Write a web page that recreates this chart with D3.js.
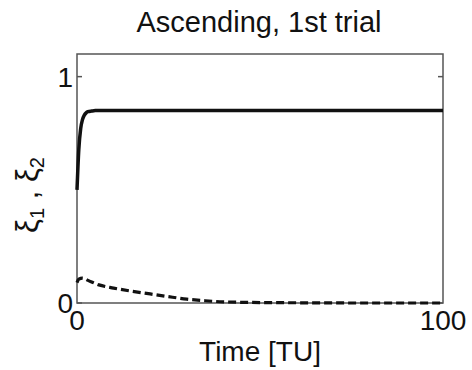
<!DOCTYPE html>
<html>
<head>
<meta charset="utf-8">
<script src="https://cdn.jsdelivr.net/npm/d3@7"></script>
<style>
  body { margin: 0; background: #fff; }
  text { font-family: "Liberation Sans", Arial, sans-serif; fill: #111; }
</style>
</head>
<body>
<svg class="chart"></svg>
<script>
// xi_1 (solid) and xi_2 (dashed) over time
var t1 = [0, 0.5, 1, 1.5, 2, 2.5, 3, 4, 5, 10, 20, 40, 60, 80, 100];
var xi1 = [0.5, 0.68, 0.77, 0.81, 0.83, 0.84, 0.845, 0.848, 0.85, 0.85, 0.85, 0.85, 0.85, 0.85, 0.85];
var t2 = [0, 0.5, 1.5, 3, 6, 10, 15, 20, 25, 30, 35, 40, 50, 60, 80, 100];
var xi2 = [0.09, 0.105, 0.11, 0.1, 0.08, 0.066, 0.052, 0.04, 0.028, 0.017, 0.01, 0.005, 0.002, 0.001, 0, 0];
var xTicks = [0, 100];
var yTicks = [0, 1];

var width = 472,
    height = 370;

var svg = d3.select(".chart").attr("width", width).attr("height", height),
    margin = {top: 54, right: 29, bottom: 67, left: 77},
    w = width - margin.left - margin.right,
    h = height - margin.top - margin.bottom,
    g = svg.append("g").attr("transform", "translate(" + margin.left + "," + margin.top + ")");

var x = d3.scaleLinear().domain([0, 100]).range([0, w]);
var y = d3.scaleLinear().domain([0, 1.1]).range([h, 0]);

var line = d3.line()
    .x(function(d) { return x(d[0]); })
    .y(function(d) { return y(d[1]); })
    .curve(d3.curveMonotoneX);

// box
g.append("rect")
    .attr("width", w).attr("height", h)
    .attr("fill", "none").attr("stroke", "#555").attr("stroke-width", 1.5);

// inward ticks on both sides
g.append("g").selectAll("line").data(yTicks).enter().append("line")
    .attr("x1", 0).attr("x2", 5)
    .attr("y1", y).attr("y2", y)
    .attr("stroke", "#555").attr("stroke-width", 1.5);
g.append("g").selectAll("line").data(yTicks).enter().append("line")
    .attr("x1", w - 5).attr("x2", w)
    .attr("y1", y).attr("y2", y)
    .attr("stroke", "#555").attr("stroke-width", 1.5);

g.append("path")
    .datum(t2.map(function(t, i) { return [t, xi2[i]]; }))
    .attr("d", line)
    .attr("fill", "none").attr("stroke", "#111")
    .attr("stroke-width", 3.2).attr("stroke-dasharray", "8,4");

g.append("path")
    .datum(t1.map(function(t, i) { return [t, xi1[i]]; }))
    .attr("d", line)
    .attr("fill", "none").attr("stroke", "#111")
    .attr("stroke-width", 3.5);

// tick labels
g.append("g").selectAll("text").data(yTicks).enter().append("text")
    .attr("x", -4).attr("y", y).attr("dy", "0.36em")
    .attr("text-anchor", "end").attr("font-size", 28)
    .text(function(d) { return d; });
g.append("g").selectAll("text").data(xTicks).enter().append("text")
    .attr("x", x).attr("y", h + 27)
    .attr("text-anchor", "middle").attr("font-size", 28)
    .text(function(d) { return d; });

// title and axis labels
svg.append("text")
    .attr("x", 259).attr("y", 32)
    .attr("text-anchor", "middle").attr("font-size", 29)
    .text("Ascending, 1st trial");

svg.append("text")
    .attr("x", 260).attr("y", 361)
    .attr("text-anchor", "middle").attr("font-size", 28)
    .text("Time [TU]");

var yl = svg.append("text")
    .attr("transform", "translate(38," + 195 + ") rotate(-90)")
    .attr("text-anchor", "middle").attr("font-size", 31);
yl.append("tspan").text("ξ");
yl.append("tspan").attr("font-size", 20).attr("dy", 6).text("1");
yl.append("tspan").attr("dy", -6).text(" , ξ");
yl.append("tspan").attr("font-size", 20).attr("dy", 6).text("2");
</script>
</body>
</html>
